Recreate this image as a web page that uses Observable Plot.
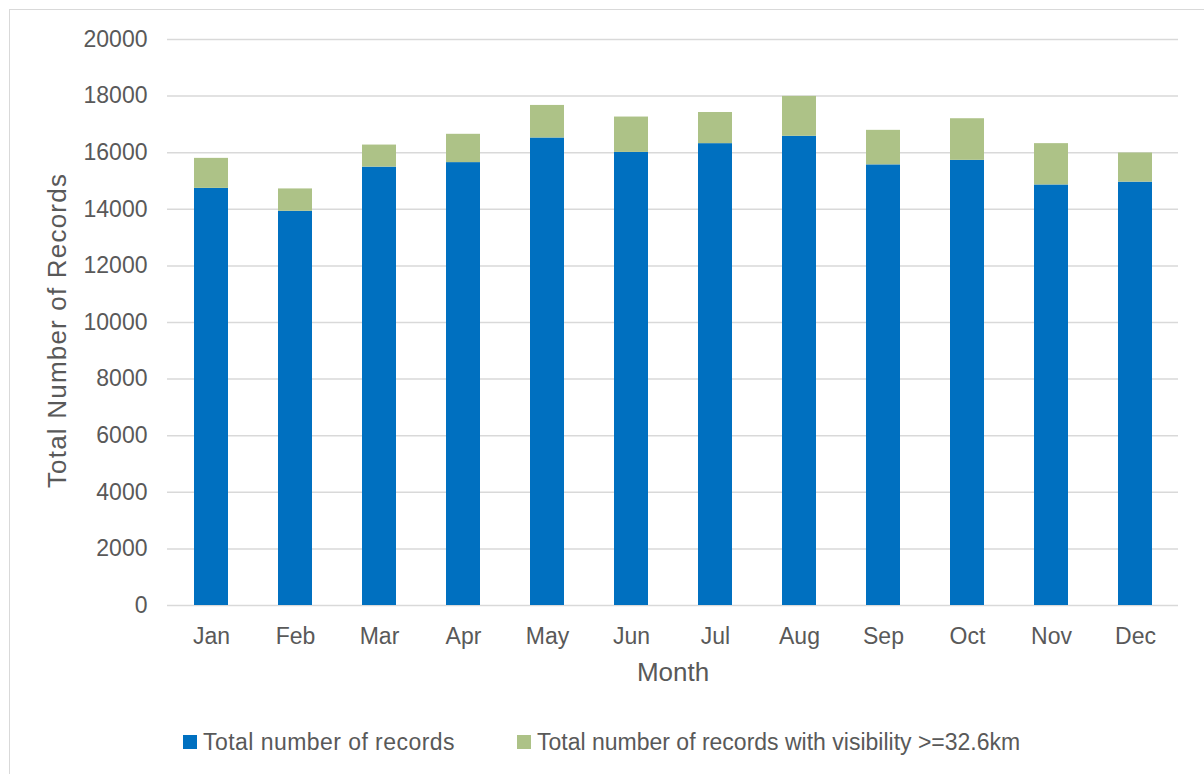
<!DOCTYPE html>
<html>
<head>
<meta charset="utf-8">
<script src="https://cdn.jsdelivr.net/npm/d3@7"></script>
<script src="https://cdn.jsdelivr.net/npm/@observablehq/plot@0.6"></script>
<style>
  html, body { margin: 0; padding: 0; background: #fff; overflow: hidden; }
  #wrap { position: relative; width: 1204px; height: 774px; font-family: "Liberation Sans", Arial, sans-serif; }
  #border { position: absolute; left: 9px; top: 9px; width: 1220px; height: 800px; border: 1px solid #d9d9d9; box-sizing: border-box; }
  #chart { position: absolute; left: 0; top: 0; }
  #legend { position: absolute; left: 0; top: 729px; width: 1204px; height: 28px; color: #595959; font-size: 23px; }
  .item { position: absolute; top: 0; display: flex; align-items: center; height: 26px; white-space: nowrap; }
  .sw { width: 14px; height: 14px; margin-right: 6px; }
  .ytitle { letter-spacing: 1.2px; }
</style>
</head>
<body>
<div id="wrap">
  <div id="border"></div>
  <div id="chart"></div>
  <div id="legend"></div>
</div>
<script>
const months = ["Jan","Feb","Mar","Apr","May","Jun","Jul","Aug","Sep","Oct","Nov","Dec"];
const seriesNames = ["Total number of records", "Total number of records with visibility >=32.6km"];
const seriesColors = ["#0070c0", "#adc287"];
// bottom segment (blue)
const totalRecords = [14740, 13930, 15490, 15650, 16520, 16010, 16320, 16580, 15570, 15730, 14860, 14960];
// stacked top segment (green)
const visibilityRecords = [1060, 790, 780, 1000, 1150, 1250, 1100, 1410, 1220, 1470, 1460, 1030];
const yTicks = [0, 2000, 4000, 6000, 8000, 10000, 12000, 14000, 16000, 18000, 20000];

const rows = [];
months.forEach((m, i) => {
  rows.push({month: m, series: seriesNames[0], value: totalRecords[i]});
  rows.push({month: m, series: seriesNames[1], value: visibilityRecords[i]});
});

const textColor = "#595959";
const chart = Plot.plot({
  width: 1204,
  height: 700,
  marginLeft: 167,
  marginRight: 26,
  marginTop: 39,
  marginBottom: 95,
  style: {fontFamily: '"Liberation Sans", Arial, sans-serif', color: textColor, background: "transparent"},
  x: {domain: months, paddingInner: 0.6, paddingOuter: 0.3, label: null},
  y: {domain: [0, 20000], label: null},
  color: {domain: seriesNames, range: seriesColors},
  marks: [
    Plot.gridY(yTicks, {stroke: "#d9d9d9", strokeOpacity: 1, strokeWidth: 1.5}),
    Plot.barY(rows, {x: "month", y: "value", fill: "series", order: seriesNames}),
    Plot.axisY(yTicks, {tickSize: 0, tickPadding: 20, fontSize: 23, fill: textColor, tickFormat: d3.format("d"), label: null}),
    Plot.axisX({tickSize: 0, tickPadding: 22, fontSize: 23, fill: textColor, label: null}),
    Plot.text(["Month"], {frameAnchor: "bottom", textAnchor: "middle", lineAnchor: "middle", dy: 67, fontSize: 26, fill: textColor}),
    Plot.text(["Total Number of Records"], {frameAnchor: "left", textAnchor: "middle", lineAnchor: "middle", rotate: -90, dx: -110, dy: 8, fontSize: 26, fill: textColor, className: "ytitle"})
  ]
});
document.getElementById("chart").appendChild(chart);

const legend = document.getElementById("legend");
const lefts = [183, 517];
const spacing = ["0.45px", "0px"];
seriesNames.forEach((name, i) => {
  const it = document.createElement("div");
  it.className = "item";
  it.style.left = lefts[i] + "px";
  const sw = document.createElement("div");
  sw.className = "sw";
  sw.style.background = seriesColors[i];
  const tx = document.createElement("span");
  tx.textContent = name;
  tx.style.letterSpacing = spacing[i];
  it.appendChild(sw);
  it.appendChild(tx);
  legend.appendChild(it);
});
</script>
</body>
</html>
